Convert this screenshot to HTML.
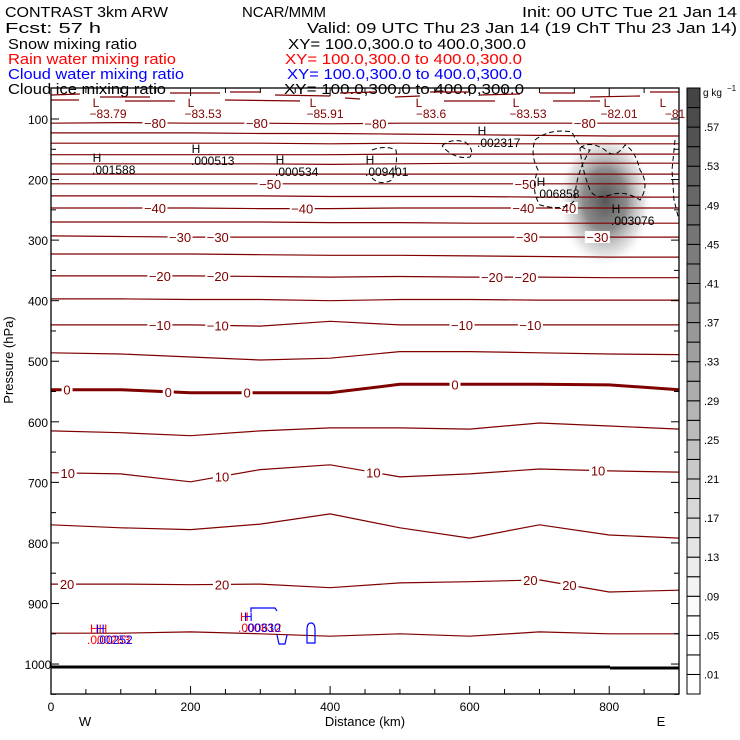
<!DOCTYPE html>
<html><head><meta charset="utf-8"><style>
html,body{margin:0;padding:0;background:#fff;}
svg{display:block;font-family:"Liberation Sans",sans-serif;}
</style></head><body>
<svg id="chart" width="740" height="740" viewBox="0 0 740 740" xmlns="http://www.w3.org/2000/svg">
<defs>
<radialGradient id="blob" cx="50%" cy="50%" r="50%">
<stop offset="0" stop-color="#555" stop-opacity="1"/>
<stop offset="0.45" stop-color="#777" stop-opacity="0.85"/>
<stop offset="0.8" stop-color="#bbb" stop-opacity="0.4"/>
<stop offset="1" stop-color="#fff" stop-opacity="0"/>
</radialGradient>
</defs>
<g font-size="15">
<text x="5" y="17" textLength="163" lengthAdjust="spacingAndGlyphs">CONTRAST  3km ARW</text>
<text x="242" y="17" textLength="84" lengthAdjust="spacingAndGlyphs">NCAR/MMM</text>
<text x="522" y="17" textLength="215" lengthAdjust="spacingAndGlyphs">Init: 00 UTC Tue 21 Jan 14</text>
<text x="5" y="33" textLength="96" lengthAdjust="spacingAndGlyphs">Fcst:   57 h</text>
<text x="307" y="33" textLength="430" lengthAdjust="spacingAndGlyphs">Valid: 09 UTC Thu 23 Jan 14 (19 ChT Thu 23 Jan 14)</text>
<text x="8" y="49" textLength="129" lengthAdjust="spacingAndGlyphs">Snow mixing ratio</text>
<text x="288" y="49" textLength="238" lengthAdjust="spacingAndGlyphs">XY= 100.0,300.0 to 400.0,300.0</text>
<text x="8" y="64" fill="#ff0000" textLength="168" lengthAdjust="spacingAndGlyphs">Rain water mixing ratio</text>
<text x="285" y="64" fill="#ff0000" textLength="237" lengthAdjust="spacingAndGlyphs">XY= 100.0,300.0 to 400.0,300.0</text>
<text x="8" y="79" fill="#0000ff" textLength="176" lengthAdjust="spacingAndGlyphs">Cloud water mixing ratio</text>
<text x="287" y="79" fill="#0000ff" textLength="235" lengthAdjust="spacingAndGlyphs">XY= 100.0,300.0 to 400.0,300.0</text>
<text x="8" y="94" textLength="158" lengthAdjust="spacingAndGlyphs">Cloud ice mixing ratio</text>
<text x="284" y="94" textLength="240" lengthAdjust="spacingAndGlyphs">XY= 100.0,300.0 to 400.0,300.0</text>
</g>
<ellipse cx="605" cy="200" rx="48" ry="68" fill="url(#blob)"/>
<g id="contours"></g>
<g id="annot"></g>
<g id="axes"></g>
<g id="cbar"></g>
</svg>
<script>
// data
const kmSamples = [0,100,200,300,400,500,600,700,800,900];
const levels = [-80,-75,-70,-65,-60,-55,-50,-45,-40,-35,-30,-25,-20,-15,-10,-5,0,5,10,15,20,25];
const lvM80 = [107,106,107,107,108,107,107,107,107,107];
const lvM75 = [123,123,123,124,124,125,126,127,128,128];
const lvM70 = [140,140,140,140,141,140,141,141,141,141];
const lvM65 = [159,159,159,159,159,158,158,158,158,158];
const lvM60 = [174,174,174,174,175,174,173,173,173,173];
const lvM55 = [191,191,191,191,191,191,191,191,191,191];
const lvM50 = [207,207,207,207,207,207,207,207,207,207];
const lvM45 = [227,227,227,227,228,228,228,229,229,229];
const lvM40 = [247,247,247,248,248,247,247,247,247,247];
const lvM35 = [270,270,270,270,271,271,272,272,272,272];
const lvM30 = [293,294,295,295,295,295,295,295,295,295];
const lvM25 = [323,323,323,324,325,325,326,327,328,328];
const lvM20 = [359,359,359,360,361,360,361,361,362,362];
const lvM15 = [397,397,398,398,400,398,398,399,399,399];
const lvM10 = [440,440,440,442,434,440,440,440,440,440];
const lvM5 = [486,488,493,498,495,484,484,486,488,489];
const lv0 = [547,547,552,552,552,538,538,538,539,547];
const lv5 = [615,618,623,615,610,610,612,602,607,612];
const lv10 = [684,686,699,679,671,691,686,678,681,683];
const lv15 = [770,775,778,769,752,775,792,770,787,792];
const lv20 = [868,868,869,868,874,866,864,861,881,878];
const lv25 = [949,949,947,950,954,950,954,947,950,950];
const levelValues = [lvM80,lvM75,lvM70,lvM65,lvM60,lvM55,lvM50,lvM45,lvM40,lvM35,lvM30,lvM25,lvM20,lvM15,lvM10,lvM5,lv0,lv5,lv10,lv15,lv20,lv25];
const labelLevels = [-80,-80,-80,-80,-50,-50,-40,-40,-40,-40,-30,-30,-30,-30,-20,-20,-20,-20,-10,-10,-10,-10,0,0,0,0,10,10,10,10,20,20,20,20];
const labelKm = [149,295,465,765,314,680,149,360,677,737,185,239,682,783,156,239,632,680,156,239,589,687,23,168,281,579,24,245,462,784,23,245,687,743];
const pTicks = [100,200,300,400,500,600,700,800,900,1000];
const xTicks = [0,200,400,600,800];
const cbarLabels = [".01",".05",".09",".13",".17",".21",".25",".29",".33",".37",".41",".45",".49",".53",".57"];

// scales
const X0=51, X1=679, Y0=88, Y1=694;
function xs(km){return X0 + km*(X1-X0)/900;}
function ys(p){return 119 + (p-100)*0.6056;}
const NS="http://www.w3.org/2000/svg";
function mk(tag, attrs, parent){const e=document.createElementNS(NS,tag);for(const k in attrs)e.setAttribute(k,attrs[k]);parent.appendChild(e);return e;}
function interp(arr, km){
  const i=Math.min(Math.floor(km/100),8);const t=(km-kmSamples[i])/100;
  return arr[i]*(1-t)+arr[i+1]*t;
}
const cg=document.getElementById('contours');
levels.forEach((lv,li)=>{
  const arr=levelValues[li];
  let d='';
  kmSamples.forEach((k,i)=>{d+=(i?'L':'M')+xs(k).toFixed(1)+' '+ys(arr[i]).toFixed(1);});
  const p=mk('path',{d:d,fill:'none',stroke:'#800000','stroke-width':lv===0?3:1.2},cg);
  
  
});
labelLevels.forEach((lv,i)=>{
  const km=labelKm[i];const li=levels.indexOf(lv);
  const x=xs(km), y=ys(interp(levelValues[li],km));
  const s=String(lv);const w=s.length*7+4;
  const r=mk('rect',{x:x-w/2,y:y-6,width:w,height:12,fill:'#fff'},cg);
  
  
  const t=mk('text',{x:x,y:y+5,'text-anchor':'middle','font-size':13,fill:'#800000'},cg);
  t.textContent=s.replace('-','\u2212');
  
  
});
// top broken -85 segments
const ag=document.getElementById('annot');
const topSegs=[[51,95,80,94],[100,97,150,97],[170,93,220,93],[230,92,260,92],[275,95,330,96],[340,93,375,92],[395,97,420,96],[430,92,470,92],[480,95,520,94],[540,93,575,93],[590,97,640,96],[650,92,679,92],[51,100,79,100],[125,101,175,101],[225,100,300,101],[345,98,360,99],[444,101,495,101],[553,101,600,101]];
topSegs.forEach(s=>{const l=mk('line',{x1:s[0],y1:s[1],x2:s[2],y2:s[3],stroke:'#800000','stroke-width':1.2},ag);});
const lows=[[96,-83.79],[191,-83.53],[313,-85.91],[419,-83.6],[516,-83.53],[607,-82.01],[663,-81]];
lows.forEach(l=>{
  const t=mk('text',{x:l[0],y:107,'text-anchor':'middle','font-size':12,fill:'#800000'},ag);t.textContent='L';
  
  
  const v=mk('text',{x:l[0]+12,y:118,'text-anchor':'middle','font-size':12,fill:'#800000'},ag);v.textContent=String(l[1]).replace('-','\u2212');
  
  
});
const highs=[[97,162,'.001588'],[196,153,'.000513'],[280,164,'.000534'],[370,164,'.009401'],[482,135,'.002317'],[541,186,'.006858'],[616,213,'.003076']];
highs.forEach(h=>{
  const t=mk('text',{x:h[0],y:h[1],'text-anchor':'middle','font-size':12,fill:'#000'},ag);t.textContent='H';
  
  
  const v=mk('text',{x:h[0]-5,y:h[1]+12,'font-size':12,fill:'#000'},ag);v.textContent=h[2];
  
  
});
const dashed=["M442,146 Q450,138 465,142 Q475,150 470,157 Q455,160 442,146","M372,150 Q385,145 396,150 Q398,165 392,180 Q380,186 372,178","M535,140 Q550,128 572,132 Q580,150 590,150 Q575,175 575,200 Q565,212 540,205 Q530,190 538,170 Q530,155 535,140","M580,148 Q590,140 605,150 Q615,160 625,145 Q635,150 640,170 Q650,185 640,200 Q625,190 610,195 Q595,200 590,190 Q582,170 580,148","M675,140 L672,170 L674,200 L679,220"];
dashed.forEach(d=>{const p=mk('path',{d:d,fill:'none',stroke:'#000','stroke-width':1,'stroke-dasharray':'5,3'},ag);});
const bot=[[90,633,'HH','#ff0000',12],[96,633,'H','#0000ff',12],[87,644,'.000283','#ff0000',12],[96,644,'.00252','#0000ff',12],[240,621,'H','#ff0000',12],[244,621,'H','#0000ff',12],[238,632,'.000612','#ff0000',12],[244,632,'.00330','#0000ff',12]];
bot.forEach(b=>{const t=mk('text',{x:b[0],y:b[1],'font-size':b[4],fill:b[3]},ag);t.textContent=b[2];});
const bl=[["M251,612 L251,608 L275,608 L277,611"],["M277,635 L279,644 L285,644 L287,635"],["M307,630 Q307,623 311,623 Q315,623 315,630 L315,643 L307,643 Z"]];
bl.forEach(d=>{const p=mk('path',{d:d[0],fill:'none',stroke:'#0000ff','stroke-width':1.2},ag);});
// ground
const g1=mk('path',{d:'M51,667 L610,667 M610,668 L679,668',stroke:'#000','stroke-width':3,fill:'none'},ag);


// axes
const ax=document.getElementById('axes');
const fr=mk('rect',{x:X0,y:Y0,width:X1-X0,height:Y1-Y0,fill:'none',stroke:'#000','stroke-width':1.3},ax);


for(let p=100;p<=1050;p+=50){
  const y=ys(p);const len=(p%100===0)?8:5;
  const a=mk('line',{x1:X0,y1:y,x2:X0+len,y2:y,stroke:'#000'},ax);
  const b=mk('line',{x1:X1,y1:y,x2:X1-len,y2:y,stroke:'#000'},ax);
}
pTicks.forEach(p=>{const t=mk('text',{x:38,y:ys(p)+5,'text-anchor':'middle','font-size':12},ax);t.textContent=p;});
for(let k=0;k<=900;k+=50){
  const x=xs(k);const len=(k%200===0)?8:5;
  const a=mk('line',{x1:x,y1:Y1,x2:x,y2:Y1-len,stroke:'#000'},ax);
  const b=mk('line',{x1:x,y1:Y0,x2:x,y2:Y0+len,stroke:'#000'},ax);
}
xTicks.forEach(k=>{const t=mk('text',{x:xs(k),y:711,'text-anchor':'middle','font-size':12},ax);t.textContent=k;});
const xt=mk('text',{x:365,y:726,'text-anchor':'middle','font-size':13},ax);xt.textContent='Distance (km)';
const wt=mk('text',{x:85,y:726,'text-anchor':'middle','font-size':13},ax);wt.textContent='W';
const et=mk('text',{x:661,y:726,'text-anchor':'middle','font-size':13},ax);et.textContent='E';
const yt=mk('text',{x:0,y:0,'text-anchor':'middle','font-size':13,transform:'translate(13,360) rotate(-90)'},ax);yt.textContent='Pressure (hPa)';
// colorbar
const cb=document.getElementById('cbar');
const nBox=31, bh=(694-88)/nBox;
for(let i=0;i<nBox;i++){
  const y=694-(i+1)*bh;
  let g;
  if(i<4) g=255; else g=Math.round(250-(i-4)*(250-68)/26);
  const r=mk('rect',{x:687,y:y,width:13,height:bh,fill:`rgb(${g},${g},${g})`,stroke:'#000','stroke-width':1},cb);
  
  
}
cbarLabels.forEach((s,i)=>{const y=694-(1+2*i)*bh;const t=mk('text',{x:704,y:y+4,'font-size':11},cb);t.textContent=s;});
const un=mk('text',{x:703,y:96,'font-size':10},cb);un.textContent='g kg';
const sup=mk('text',{x:727,y:91,'font-size':8},cb);sup.textContent='\u22121';
</script>
</body></html>
